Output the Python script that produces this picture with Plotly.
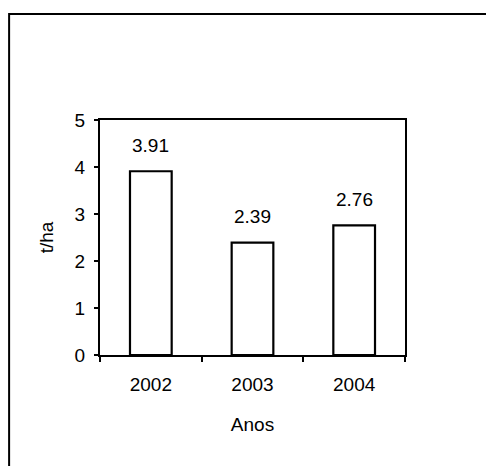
# %% Requirements and constants
import plotly.graph_objects as go

anos = ['2002', '2003', '2004']
produtividade = [3.91, 2.39, 2.76]
rotulos = ['3.91', '2.39', '2.76']

FONT = 'Liberation Sans, Arial, sans-serif'
FS = 19
TXT = dict(family=FONT, size=FS, color='black')

# %% Figure
fig = go.Figure()
fig.add_trace(go.Bar(
    x=anos, y=produtividade, width=0.41,
    marker=dict(color='white', line=dict(color='black', width=2.2)),
    showlegend=False, hoverinfo='skip',
))

# category axis: annotations placed by category index
for i, (v, r) in enumerate(zip(produtividade, rotulos)):
    fig.add_annotation(x=i, y=v, text=r, showarrow=False, yanchor='middle',
                       yshift=26, font=TXT)

# outer frame of the scanned figure (clipped on right and bottom)
fig.add_shape(type='rect', xref='paper', yref='paper',
              x0=-0.298, x1=1.5, y0=-0.7, y1=1.451,
              line=dict(color='black', width=2), fillcolor='rgba(0,0,0,0)')

# page body adds ~8px offset, so margins are shifted to compensate
fig.update_layout(
    template='none',
    width=494, height=466, autosize=False,
    margin=dict(l=92, r=97, t=112, b=119, autoexpand=False),
    paper_bgcolor='white', plot_bgcolor='white',
    font=TXT,
)
fig.update_xaxes(
    type='category', range=[-0.5, 2.5], tickson='boundaries', ticks='outside',
    ticklen=5, tickcolor='black', tickwidth=1.5, showline=True,
    linecolor='black', linewidth=2.2, mirror=True, showgrid=False,
    ticklabelstandoff=11, tickangle=0, tickfont=TXT,
    title=dict(text='Anos', standoff=24, font=TXT),
)
fig.update_yaxes(
    range=[0, 5], dtick=1, ticks='outside', ticklen=4, tickcolor='black',
    tickwidth=1.5, showline=True, linecolor='black', linewidth=2.2,
    mirror=True, showgrid=False, zeroline=False, ticklabelstandoff=5,
    tickfont=TXT, title=dict(text='t/ha', standoff=16, font=TXT),
)

fig.write_html('out.html')
